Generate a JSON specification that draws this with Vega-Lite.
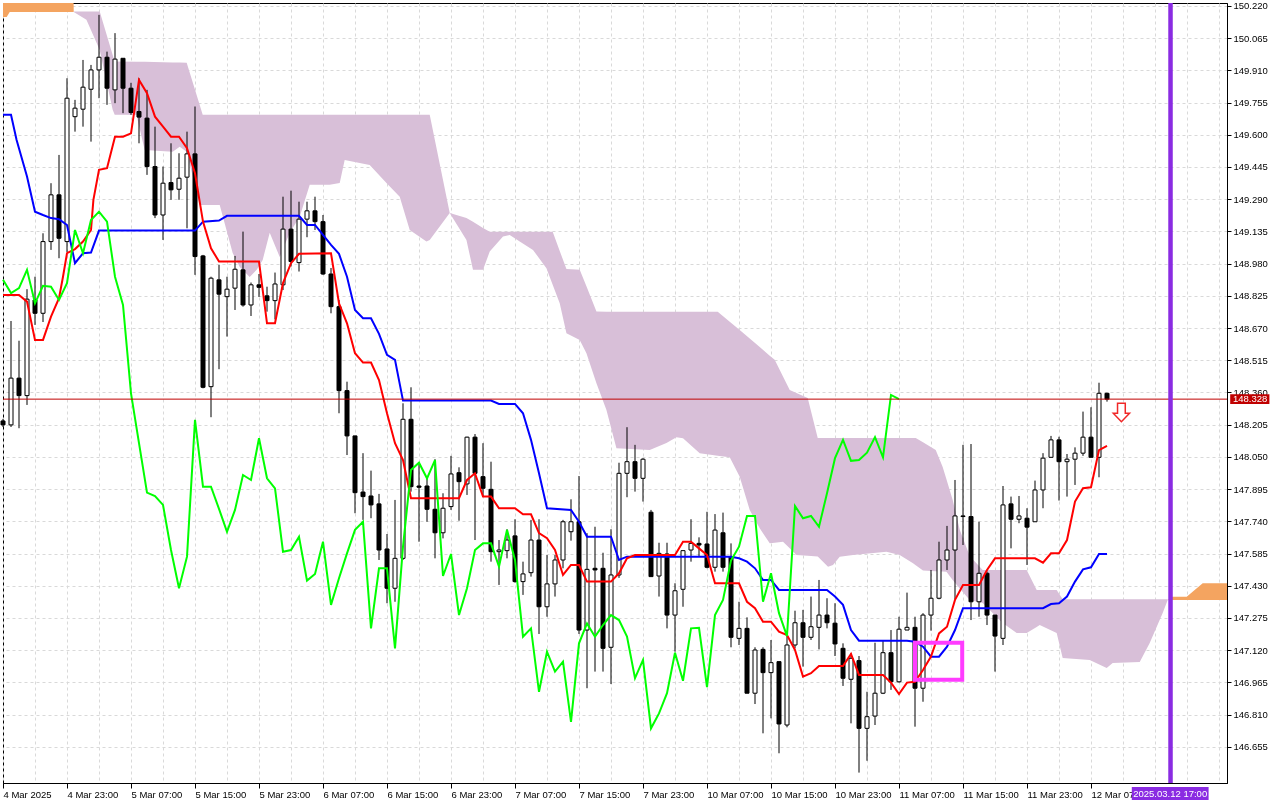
{
  "$schema": "https://vega.github.io/schema/vega-lite/v6.json",
  "width": 1224,
  "height": 780,
  "autosize": {"type": "none"},
  "padding": {"left": 3, "top": 3, "right": 53, "bottom": 17},
  "background": "white",
  "config": {
    "view": {"stroke": "#000000", "strokeWidth": 1},
    "font": "Liberation Sans",
    "axis": {"labelOverlap": false, "labelBound": false, "labelFlush": false, "title": null}
  },
  "datasets": {
    "cloud": [
      {"seg": 1, "kind": "bull", "i": -1, "top": 150.3, "bot": 150.167},
      {"seg": 1, "kind": "bull", "i": 0.46, "top": 150.3, "bot": 150.167},
      {"seg": 1, "kind": "bull", "i": 0.84, "top": 150.3, "bot": 150.191},
      {"seg": 1, "kind": "bull", "i": 8.8, "top": 150.3, "bot": 150.191},
      {"seg": 1, "kind": "bull", "i": 8.84, "top": 150.193, "bot": 150.191},
      {"seg": 2, "kind": "bear", "i": 8.84, "top": 150.193, "bot": 150.191},
      {"seg": 2, "kind": "bear", "i": 10.43, "top": 150.193, "bot": 150.153},
      {"seg": 2, "kind": "bear", "i": 12.09, "top": 150.193, "bot": 150.008},
      {"seg": 2, "kind": "bear", "i": 13.71, "top": 149.984, "bot": 149.72},
      {"seg": 2, "kind": "bear", "i": 13.96, "top": 149.952, "bot": 149.696},
      {"seg": 2, "kind": "bear", "i": 16.68, "top": 149.951, "bot": 149.696},
      {"seg": 2, "kind": "bear", "i": 17.71, "top": 149.951, "bot": 149.527},
      {"seg": 2, "kind": "bear", "i": 21.21, "top": 149.948, "bot": 149.518},
      {"seg": 2, "kind": "bear", "i": 22.09, "top": 149.948, "bot": 149.542},
      {"seg": 2, "kind": "bear", "i": 22.96, "top": 149.947, "bot": 149.518},
      {"seg": 2, "kind": "bear", "i": 24.59, "top": 149.743, "bot": 149.262},
      {"seg": 2, "kind": "bear", "i": 24.96, "top": 149.696, "bot": 149.262},
      {"seg": 2, "kind": "bear", "i": 27.09, "top": 149.696, "bot": 149.262},
      {"seg": 2, "kind": "bear", "i": 28.71, "top": 149.696, "bot": 149.031},
      {"seg": 2, "kind": "bear", "i": 29.59, "top": 149.696, "bot": 148.964},
      {"seg": 2, "kind": "bear", "i": 30.84, "top": 149.696, "bot": 148.916},
      {"seg": 2, "kind": "bear", "i": 31.71, "top": 149.696, "bot": 148.95},
      {"seg": 2, "kind": "bear", "i": 32.46, "top": 149.696, "bot": 148.998},
      {"seg": 2, "kind": "bear", "i": 33.34, "top": 149.696, "bot": 149.128},
      {"seg": 2, "kind": "bear", "i": 34.59, "top": 149.696, "bot": 149.012},
      {"seg": 2, "kind": "bear", "i": 35.84, "top": 149.696, "bot": 149.128},
      {"seg": 2, "kind": "bear", "i": 37.09, "top": 149.696, "bot": 149.205},
      {"seg": 2, "kind": "bear", "i": 38.34, "top": 149.696, "bot": 149.359},
      {"seg": 2, "kind": "bear", "i": 40.84, "top": 149.696, "bot": 149.359},
      {"seg": 2, "kind": "bear", "i": 42.09, "top": 149.696, "bot": 149.368},
      {"seg": 2, "kind": "bear", "i": 42.71, "top": 149.696, "bot": 149.479},
      {"seg": 2, "kind": "bear", "i": 45.84, "top": 149.696, "bot": 149.455},
      {"seg": 2, "kind": "bear", "i": 47.93, "top": 149.696, "bot": 149.368},
      {"seg": 2, "kind": "bear", "i": 49.59, "top": 149.696, "bot": 149.302},
      {"seg": 2, "kind": "bear", "i": 50.84, "top": 149.696, "bot": 149.142},
      {"seg": 2, "kind": "bear", "i": 52.93, "top": 149.696, "bot": 149.086},
      {"seg": 2, "kind": "bear", "i": 53.34, "top": 149.696, "bot": 149.094},
      {"seg": 2, "kind": "bear", "i": 55.84, "top": 149.224, "bot": 149.224},
      {"seg": 2, "kind": "bear", "i": 57.93, "top": 149.2, "bot": 149.094},
      {"seg": 2, "kind": "bear", "i": 58.75, "top": 149.182, "bot": 148.95},
      {"seg": 2, "kind": "bear", "i": 60.0, "top": 149.152, "bot": 148.95},
      {"seg": 2, "kind": "bear", "i": 60.84, "top": 149.133, "bot": 149.038},
      {"seg": 2, "kind": "bear", "i": 62.5, "top": 149.133, "bot": 149.11},
      {"seg": 2, "kind": "bear", "i": 63.34, "top": 149.133, "bot": 149.118},
      {"seg": 2, "kind": "bear", "i": 64.59, "top": 149.133, "bot": 149.086},
      {"seg": 2, "kind": "bear", "i": 66.25, "top": 149.133, "bot": 149.046},
      {"seg": 2, "kind": "bear", "i": 67.93, "top": 149.133, "bot": 148.958},
      {"seg": 2, "kind": "bear", "i": 68.71, "top": 149.133, "bot": 148.878},
      {"seg": 2, "kind": "bear", "i": 69.59, "top": 149.041, "bot": 148.789},
      {"seg": 2, "kind": "bear", "i": 70.43, "top": 148.954, "bot": 148.645},
      {"seg": 2, "kind": "bear", "i": 72.09, "top": 148.95, "bot": 148.613},
      {"seg": 2, "kind": "bear", "i": 72.93, "top": 148.871, "bot": 148.549},
      {"seg": 2, "kind": "bear", "i": 74.18, "top": 148.75, "bot": 148.405},
      {"seg": 2, "kind": "bear", "i": 75.43, "top": 148.748, "bot": 148.276},
      {"seg": 2, "kind": "bear", "i": 76.68, "top": 148.748, "bot": 148.092},
      {"seg": 2, "kind": "bear", "i": 80.84, "top": 148.748, "bot": 148.083},
      {"seg": 2, "kind": "bear", "i": 82.93, "top": 148.748, "bot": 148.117},
      {"seg": 2, "kind": "bear", "i": 84.18, "top": 148.748, "bot": 148.145},
      {"seg": 2, "kind": "bear", "i": 85.0, "top": 148.748, "bot": 148.14},
      {"seg": 2, "kind": "bear", "i": 87.09, "top": 148.748, "bot": 148.068},
      {"seg": 2, "kind": "bear", "i": 89.34, "top": 148.748, "bot": 148.056},
      {"seg": 2, "kind": "bear", "i": 90.84, "top": 148.7, "bot": 148.048},
      {"seg": 2, "kind": "bear", "i": 92.09, "top": 148.661, "bot": 147.955},
      {"seg": 2, "kind": "bear", "i": 93.34, "top": 148.62, "bot": 147.795},
      {"seg": 2, "kind": "bear", "i": 94.59, "top": 148.579, "bot": 147.707},
      {"seg": 2, "kind": "bear", "i": 95.84, "top": 148.537, "bot": 147.634},
      {"seg": 2, "kind": "bear", "i": 96.46, "top": 148.517, "bot": 147.637},
      {"seg": 2, "kind": "bear", "i": 97.5, "top": 148.437, "bot": 147.642},
      {"seg": 2, "kind": "bear", "i": 98.34, "top": 148.372, "bot": 147.61},
      {"seg": 2, "kind": "bear", "i": 99.18, "top": 148.358, "bot": 147.578},
      {"seg": 2, "kind": "bear", "i": 100.59, "top": 148.334, "bot": 147.574},
      {"seg": 2, "kind": "bear", "i": 101.84, "top": 148.141, "bot": 147.571},
      {"seg": 2, "kind": "bear", "i": 103.13, "top": 148.141, "bot": 147.522},
      {"seg": 2, "kind": "bear", "i": 103.75, "top": 148.141, "bot": 147.53},
      {"seg": 2, "kind": "bear", "i": 104.59, "top": 148.141, "bot": 147.57},
      {"seg": 2, "kind": "bear", "i": 106.25, "top": 148.141, "bot": 147.578},
      {"seg": 2, "kind": "bear", "i": 110.43, "top": 148.141, "bot": 147.594},
      {"seg": 2, "kind": "bear", "i": 112.09, "top": 148.141, "bot": 147.578},
      {"seg": 2, "kind": "bear", "i": 113.75, "top": 148.141, "bot": 147.538},
      {"seg": 2, "kind": "bear", "i": 114.09, "top": 148.141, "bot": 147.529},
      {"seg": 2, "kind": "bear", "i": 115.0, "top": 148.12, "bot": 147.503},
      {"seg": 2, "kind": "bear", "i": 116.59, "top": 148.083, "bot": 147.5},
      {"seg": 2, "kind": "bear", "i": 117.46, "top": 148.002, "bot": 147.499},
      {"seg": 2, "kind": "bear", "i": 117.93, "top": 147.943, "bot": 147.498},
      {"seg": 2, "kind": "bear", "i": 118.71, "top": 147.843, "bot": 147.458},
      {"seg": 2, "kind": "bear", "i": 119.59, "top": 147.699, "bot": 147.417},
      {"seg": 2, "kind": "bear", "i": 120.84, "top": 147.573, "bot": 147.362},
      {"seg": 2, "kind": "bear", "i": 122.46, "top": 147.506, "bot": 147.347},
      {"seg": 2, "kind": "bear", "i": 124.96, "top": 147.506, "bot": 147.251},
      {"seg": 2, "kind": "bear", "i": 126.71, "top": 147.506, "bot": 147.203},
      {"seg": 2, "kind": "bear", "i": 127.96, "top": 147.506, "bot": 147.203},
      {"seg": 2, "kind": "bear", "i": 129.21, "top": 147.41, "bot": 147.232},
      {"seg": 2, "kind": "bear", "i": 129.59, "top": 147.41, "bot": 147.241},
      {"seg": 2, "kind": "bear", "i": 131.71, "top": 147.41, "bot": 147.203},
      {"seg": 2, "kind": "bear", "i": 132.46, "top": 147.365, "bot": 147.083},
      {"seg": 2, "kind": "bear", "i": 135.84, "top": 147.365, "bot": 147.073},
      {"seg": 2, "kind": "bear", "i": 137.96, "top": 147.365, "bot": 147.034},
      {"seg": 2, "kind": "bear", "i": 138.71, "top": 147.365, "bot": 147.058},
      {"seg": 2, "kind": "bear", "i": 142.09, "top": 147.365, "bot": 147.063},
      {"seg": 2, "kind": "bear", "i": 143.34, "top": 147.365, "bot": 147.155},
      {"seg": 2, "kind": "bear", "i": 144.96, "top": 147.365, "bot": 147.299},
      {"seg": 2, "kind": "bear", "i": 145.59, "top": 147.365, "bot": 147.362},
      {"seg": 3, "kind": "bull", "i": 145.59, "top": 147.362, "bot": 147.362},
      {"seg": 3, "kind": "bull", "i": 146.17, "top": 147.377, "bot": 147.362},
      {"seg": 3, "kind": "bull", "i": 147.96, "top": 147.377, "bot": 147.362},
      {"seg": 3, "kind": "bull", "i": 149.96, "top": 147.442, "bot": 147.362},
      {"seg": 3, "kind": "bull", "i": 154, "top": 147.442, "bot": 147.362}
    ],
    "bars": [
      {"i": 0, "o": 148.223, "h": 148.233, "l": 148.194, "c": 148.204},
      {"i": 1, "o": 148.204, "h": 148.704, "l": 148.194, "c": 148.429},
      {"i": 2, "o": 148.429, "h": 148.609, "l": 148.188, "c": 148.345},
      {"i": 3, "o": 148.345, "h": 148.857, "l": 148.3, "c": 148.809},
      {"i": 4, "o": 148.805, "h": 148.917, "l": 148.685, "c": 148.741},
      {"i": 5, "o": 148.741, "h": 149.126, "l": 148.699, "c": 149.086},
      {"i": 6, "o": 149.086, "h": 149.367, "l": 149.046, "c": 149.311},
      {"i": 7, "o": 149.311, "h": 149.503, "l": 149.006, "c": 149.102},
      {"i": 8, "o": 149.086, "h": 149.872, "l": 149.036, "c": 149.776},
      {"i": 9, "o": 149.687, "h": 149.768, "l": 149.615, "c": 149.728},
      {"i": 10, "o": 149.723, "h": 149.96, "l": 149.639, "c": 149.829},
      {"i": 11, "o": 149.819, "h": 149.936, "l": 149.567, "c": 149.912},
      {"i": 12, "o": 149.912, "h": 150.177, "l": 149.776, "c": 149.973},
      {"i": 13, "o": 149.973, "h": 150.0, "l": 149.744, "c": 149.824},
      {"i": 14, "o": 149.816, "h": 150.089, "l": 149.752, "c": 149.964},
      {"i": 15, "o": 149.968, "h": 149.968, "l": 149.704, "c": 149.824},
      {"i": 16, "o": 149.824, "h": 149.85, "l": 149.696, "c": 149.707},
      {"i": 17, "o": 149.712, "h": 149.872, "l": 149.559, "c": 149.685},
      {"i": 18, "o": 149.68, "h": 149.816, "l": 149.407, "c": 149.447},
      {"i": 19, "o": 149.447, "h": 149.639, "l": 149.199, "c": 149.214},
      {"i": 20, "o": 149.214, "h": 149.447, "l": 149.094, "c": 149.367},
      {"i": 21, "o": 149.37, "h": 149.559, "l": 149.287, "c": 149.335},
      {"i": 22, "o": 149.338, "h": 149.511, "l": 149.287, "c": 149.391},
      {"i": 23, "o": 149.396, "h": 149.615, "l": 149.15, "c": 149.508},
      {"i": 24, "o": 149.508, "h": 149.736, "l": 148.926, "c": 149.014},
      {"i": 25, "o": 149.017, "h": 149.022, "l": 148.38, "c": 148.385},
      {"i": 26, "o": 148.388, "h": 148.917, "l": 148.241, "c": 148.91},
      {"i": 27, "o": 148.902, "h": 148.974, "l": 148.472, "c": 148.833},
      {"i": 28, "o": 148.821, "h": 148.917, "l": 148.629, "c": 148.857},
      {"i": 29, "o": 148.862, "h": 149.017, "l": 148.757, "c": 148.953},
      {"i": 30, "o": 148.95, "h": 149.134, "l": 148.773, "c": 148.781},
      {"i": 31, "o": 148.781, "h": 148.889, "l": 148.728, "c": 148.878},
      {"i": 32, "o": 148.878, "h": 148.93, "l": 148.82, "c": 148.866},
      {"i": 33, "o": 148.825, "h": 148.869, "l": 148.749, "c": 148.802},
      {"i": 34, "o": 148.802, "h": 148.937, "l": 148.712, "c": 148.882},
      {"i": 35, "o": 148.878, "h": 149.302, "l": 148.853, "c": 149.146},
      {"i": 36, "o": 149.146, "h": 149.331, "l": 148.966, "c": 148.99},
      {"i": 37, "o": 148.985, "h": 149.278, "l": 148.942, "c": 149.194},
      {"i": 38, "o": 149.194, "h": 149.278, "l": 149.107, "c": 149.234},
      {"i": 39, "o": 149.234, "h": 149.302, "l": 149.142, "c": 149.182},
      {"i": 40, "o": 149.182, "h": 149.214, "l": 148.926, "c": 148.93},
      {"i": 41, "o": 148.93, "h": 148.959, "l": 148.741, "c": 148.773},
      {"i": 42, "o": 148.773, "h": 148.805, "l": 148.26, "c": 148.369},
      {"i": 43, "o": 148.369, "h": 148.412, "l": 148.059, "c": 148.151},
      {"i": 44, "o": 148.151, "h": 148.151, "l": 147.779, "c": 147.878},
      {"i": 45, "o": 147.881, "h": 148.068, "l": 147.747, "c": 147.859},
      {"i": 46, "o": 147.862, "h": 147.984, "l": 147.755, "c": 147.819},
      {"i": 47, "o": 147.824, "h": 147.872, "l": 147.554, "c": 147.602},
      {"i": 48, "o": 147.607, "h": 147.679, "l": 147.346, "c": 147.418},
      {"i": 49, "o": 147.418, "h": 147.843, "l": 147.353, "c": 147.562},
      {"i": 50, "o": 147.562, "h": 148.308, "l": 147.554, "c": 148.231},
      {"i": 51, "o": 148.231, "h": 148.385, "l": 147.883, "c": 147.907},
      {"i": 52, "o": 147.91, "h": 148.019, "l": 147.642, "c": 147.904},
      {"i": 53, "o": 147.91, "h": 147.947, "l": 147.738, "c": 147.798},
      {"i": 54, "o": 147.798, "h": 148.039, "l": 147.562, "c": 147.685},
      {"i": 55, "o": 147.685, "h": 147.875, "l": 147.658, "c": 147.803},
      {"i": 56, "o": 147.811, "h": 148.055, "l": 147.795, "c": 147.968},
      {"i": 57, "o": 147.974, "h": 148.0, "l": 147.743, "c": 147.931},
      {"i": 58, "o": 147.92, "h": 148.147, "l": 147.867, "c": 148.145},
      {"i": 59, "o": 148.145, "h": 148.16, "l": 147.65, "c": 147.971},
      {"i": 60, "o": 147.955, "h": 148.116, "l": 147.859, "c": 147.899},
      {"i": 61, "o": 147.894, "h": 148.027, "l": 147.546, "c": 147.594},
      {"i": 62, "o": 147.594, "h": 147.65, "l": 147.434, "c": 147.602},
      {"i": 63, "o": 147.599, "h": 147.702, "l": 147.562, "c": 147.65},
      {"i": 64, "o": 147.67, "h": 147.75, "l": 147.445, "c": 147.45},
      {"i": 65, "o": 147.45, "h": 147.546, "l": 147.386, "c": 147.487},
      {"i": 66, "o": 147.493, "h": 147.747, "l": 147.474, "c": 147.65},
      {"i": 67, "o": 147.65, "h": 147.75, "l": 147.198, "c": 147.329},
      {"i": 68, "o": 147.329, "h": 147.578, "l": 147.281, "c": 147.439},
      {"i": 69, "o": 147.439, "h": 147.578, "l": 147.378, "c": 147.554},
      {"i": 70, "o": 147.554, "h": 147.747, "l": 147.514, "c": 147.738},
      {"i": 71, "o": 147.69, "h": 147.846, "l": 147.647, "c": 147.738},
      {"i": 72, "o": 147.738, "h": 147.958, "l": 147.198, "c": 147.217},
      {"i": 73, "o": 147.217, "h": 147.683, "l": 146.937, "c": 147.509},
      {"i": 74, "o": 147.514, "h": 147.714, "l": 147.017, "c": 147.506},
      {"i": 75, "o": 147.514, "h": 147.589, "l": 147.017, "c": 147.129},
      {"i": 76, "o": 147.134, "h": 147.702, "l": 146.957, "c": 147.482},
      {"i": 77, "o": 147.482, "h": 148.022, "l": 147.468, "c": 147.971},
      {"i": 78, "o": 147.971, "h": 148.193, "l": 147.856, "c": 148.027},
      {"i": 79, "o": 148.027, "h": 148.108, "l": 147.883, "c": 147.947},
      {"i": 80, "o": 147.947, "h": 148.044, "l": 147.835, "c": 148.039},
      {"i": 81, "o": 147.784, "h": 147.795, "l": 147.474, "c": 147.474},
      {"i": 82, "o": 147.477, "h": 147.637, "l": 147.378, "c": 147.586},
      {"i": 83, "o": 147.583, "h": 147.637, "l": 147.225, "c": 147.289},
      {"i": 84, "o": 147.289, "h": 147.442, "l": 147.113, "c": 147.406},
      {"i": 85, "o": 147.413, "h": 147.602, "l": 147.329, "c": 147.599},
      {"i": 86, "o": 147.602, "h": 147.75, "l": 147.546, "c": 147.634},
      {"i": 87, "o": 147.634, "h": 147.663, "l": 147.57, "c": 147.626},
      {"i": 88, "o": 147.631, "h": 147.786, "l": 147.514, "c": 147.519},
      {"i": 89, "o": 147.519, "h": 147.775, "l": 147.498, "c": 147.698},
      {"i": 90, "o": 147.685, "h": 147.782, "l": 147.498, "c": 147.519},
      {"i": 91, "o": 147.57, "h": 147.634, "l": 147.134, "c": 147.182},
      {"i": 92, "o": 147.177, "h": 147.353, "l": 147.145, "c": 147.225},
      {"i": 93, "o": 147.225, "h": 147.278, "l": 146.913, "c": 146.913},
      {"i": 94, "o": 146.913, "h": 147.134, "l": 146.861, "c": 147.121},
      {"i": 95, "o": 147.124, "h": 147.134, "l": 146.72, "c": 147.012},
      {"i": 96, "o": 147.012, "h": 147.169, "l": 146.792, "c": 147.06},
      {"i": 97, "o": 147.065, "h": 147.065, "l": 146.624, "c": 146.765},
      {"i": 98, "o": 146.76, "h": 147.201, "l": 146.749, "c": 147.145},
      {"i": 99, "o": 147.145, "h": 147.31, "l": 147.129, "c": 147.252},
      {"i": 100, "o": 147.252, "h": 147.314, "l": 147.041, "c": 147.182},
      {"i": 101, "o": 147.182, "h": 147.378, "l": 147.169, "c": 147.233},
      {"i": 102, "o": 147.23, "h": 147.458, "l": 147.124, "c": 147.289},
      {"i": 103, "o": 147.289, "h": 147.37, "l": 147.225, "c": 147.252},
      {"i": 104, "o": 147.25, "h": 147.346, "l": 147.092, "c": 147.15},
      {"i": 105, "o": 147.129, "h": 147.153, "l": 146.948, "c": 146.985},
      {"i": 106, "o": 146.98, "h": 147.105, "l": 146.768, "c": 147.081},
      {"i": 107, "o": 147.07, "h": 147.092, "l": 146.531, "c": 146.744},
      {"i": 108, "o": 146.744, "h": 146.92, "l": 146.588, "c": 146.8},
      {"i": 109, "o": 146.803, "h": 147.156, "l": 146.76, "c": 146.913},
      {"i": 110, "o": 146.913, "h": 147.169, "l": 146.909, "c": 147.108},
      {"i": 111, "o": 147.108, "h": 147.217, "l": 146.929, "c": 146.968},
      {"i": 112, "o": 146.968, "h": 147.281, "l": 146.964, "c": 147.221},
      {"i": 113, "o": 147.217, "h": 147.397, "l": 147.217, "c": 147.23},
      {"i": 114, "o": 147.23, "h": 147.281, "l": 146.752, "c": 146.937},
      {"i": 115, "o": 146.937, "h": 147.298, "l": 146.872, "c": 147.289},
      {"i": 116, "o": 147.289, "h": 147.506, "l": 147.214, "c": 147.37},
      {"i": 117, "o": 147.37, "h": 147.642, "l": 147.365, "c": 147.554},
      {"i": 118, "o": 147.554, "h": 147.718, "l": 147.506, "c": 147.602},
      {"i": 119, "o": 147.602, "h": 147.939, "l": 147.365, "c": 147.766},
      {"i": 120, "o": 147.766, "h": 148.108, "l": 147.626, "c": 147.763},
      {"i": 121, "o": 147.763, "h": 148.112, "l": 147.265, "c": 147.353},
      {"i": 122, "o": 147.353, "h": 147.738, "l": 147.281, "c": 147.49},
      {"i": 123, "o": 147.49, "h": 147.498, "l": 147.241, "c": 147.289},
      {"i": 124, "o": 147.289, "h": 147.289, "l": 147.017, "c": 147.188},
      {"i": 125, "o": 147.177, "h": 147.91, "l": 147.145, "c": 147.819},
      {"i": 126, "o": 147.824, "h": 147.859, "l": 147.61, "c": 147.75},
      {"i": 127, "o": 147.75, "h": 147.862, "l": 147.731, "c": 147.766},
      {"i": 128, "o": 147.755, "h": 147.803, "l": 147.53, "c": 147.712},
      {"i": 129, "o": 147.738, "h": 147.936, "l": 147.738, "c": 147.891},
      {"i": 130, "o": 147.891, "h": 148.068, "l": 147.803, "c": 148.044},
      {"i": 131, "o": 148.048, "h": 148.151, "l": 148.048, "c": 148.132},
      {"i": 132, "o": 148.132, "h": 148.147, "l": 147.84, "c": 148.027},
      {"i": 133, "o": 148.027, "h": 148.064, "l": 147.859, "c": 148.039},
      {"i": 134, "o": 148.039, "h": 148.096, "l": 147.915, "c": 148.068},
      {"i": 135, "o": 148.068, "h": 148.268, "l": 148.055, "c": 148.145},
      {"i": 136, "o": 148.145, "h": 148.289, "l": 148.048, "c": 148.048},
      {"i": 137, "o": 148.048, "h": 148.407, "l": 147.952, "c": 148.356},
      {"i": 138, "o": 148.356, "h": 148.359, "l": 148.316, "c": 148.328}
    ],
    "tenkan": [
      {"i": 0, "v": 148.829}, {"i": 2, "v": 148.829}, {"i": 3, "v": 148.797}, {"i": 4, "v": 148.613},
      {"i": 5, "v": 148.613}, {"i": 6, "v": 148.725}, {"i": 7, "v": 148.814}, {"i": 7.5, "v": 148.917},
      {"i": 8, "v": 149.03}, {"i": 9, "v": 149.05}, {"i": 10, "v": 149.086}, {"i": 11, "v": 149.142},
      {"i": 11.3, "v": 149.287}, {"i": 12, "v": 149.431}, {"i": 13, "v": 149.439}, {"i": 14, "v": 149.591},
      {"i": 15, "v": 149.591}, {"i": 16, "v": 149.607}, {"i": 17, "v": 149.864}, {"i": 18, "v": 149.8},
      {"i": 19, "v": 149.687}, {"i": 20, "v": 149.639}, {"i": 21, "v": 149.591}, {"i": 22, "v": 149.591},
      {"i": 23, "v": 149.535}, {"i": 24, "v": 149.415}, {"i": 25, "v": 149.182}, {"i": 26, "v": 149.054},
      {"i": 27, "v": 148.99}, {"i": 32, "v": 148.99}, {"i": 33, "v": 148.693}, {"i": 34, "v": 148.693},
      {"i": 35, "v": 148.886}, {"i": 36, "v": 148.982}, {"i": 37, "v": 149.027}, {"i": 41, "v": 149.03},
      {"i": 42, "v": 148.789}, {"i": 43, "v": 148.693}, {"i": 44, "v": 148.549}, {"i": 45, "v": 148.504},
      {"i": 46, "v": 148.504}, {"i": 47, "v": 148.42}, {"i": 48, "v": 148.26}, {"i": 49, "v": 148.116},
      {"i": 50, "v": 148.035}, {"i": 51, "v": 147.851}, {"i": 57, "v": 147.851}, {"i": 58, "v": 147.939},
      {"i": 59, "v": 147.971}, {"i": 60, "v": 147.859}, {"i": 61, "v": 147.859}, {"i": 62, "v": 147.803},
      {"i": 64, "v": 147.803}, {"i": 65, "v": 147.774}, {"i": 66, "v": 147.774}, {"i": 67, "v": 147.683},
      {"i": 68, "v": 147.659}, {"i": 69, "v": 147.602}, {"i": 70, "v": 147.482}, {"i": 71, "v": 147.53},
      {"i": 72, "v": 147.53}, {"i": 73, "v": 147.45}, {"i": 76, "v": 147.45}, {"i": 77, "v": 147.49},
      {"i": 78, "v": 147.562}, {"i": 79, "v": 147.578}, {"i": 84, "v": 147.578}, {"i": 85, "v": 147.642},
      {"i": 86, "v": 147.642}, {"i": 87, "v": 147.61}, {"i": 88, "v": 147.578}, {"i": 89, "v": 147.442},
      {"i": 92, "v": 147.442}, {"i": 93, "v": 147.353}, {"i": 94, "v": 147.322}, {"i": 95, "v": 147.257},
      {"i": 96, "v": 147.257}, {"i": 97, "v": 147.209}, {"i": 98, "v": 147.193}, {"i": 99, "v": 147.121},
      {"i": 100, "v": 146.993}, {"i": 101, "v": 147.009}, {"i": 102, "v": 147.044}, {"i": 105, "v": 147.044},
      {"i": 106, "v": 147.102}, {"i": 107, "v": 147.001}, {"i": 110, "v": 147.001}, {"i": 111, "v": 146.964},
      {"i": 112, "v": 146.909}, {"i": 113, "v": 146.964}, {"i": 114, "v": 146.968}, {"i": 115, "v": 147.025},
      {"i": 116, "v": 147.089}, {"i": 117, "v": 147.201}, {"i": 118, "v": 147.233}, {"i": 119, "v": 147.362},
      {"i": 120, "v": 147.434}, {"i": 122, "v": 147.434}, {"i": 123, "v": 147.506}, {"i": 124, "v": 147.562},
      {"i": 129, "v": 147.562}, {"i": 130, "v": 147.541}, {"i": 131, "v": 147.586}, {"i": 132, "v": 147.586},
      {"i": 133, "v": 147.65}, {"i": 134, "v": 147.835}, {"i": 135, "v": 147.899}, {"i": 136, "v": 147.904},
      {"i": 137, "v": 148.083}, {"i": 138, "v": 148.103}
    ],
    "kijun": [
      {"i": 0, "v": 149.696}, {"i": 1, "v": 149.696}, {"i": 1.7, "v": 149.575}, {"i": 3, "v": 149.399},
      {"i": 4, "v": 149.23}, {"i": 5, "v": 149.214}, {"i": 6, "v": 149.199}, {"i": 7, "v": 149.194},
      {"i": 8, "v": 149.166}, {"i": 9, "v": 148.982}, {"i": 10, "v": 149.03}, {"i": 11, "v": 149.033},
      {"i": 12, "v": 149.139}, {"i": 24, "v": 149.139}, {"i": 25, "v": 149.182}, {"i": 27, "v": 149.187},
      {"i": 28, "v": 149.21}, {"i": 37, "v": 149.21}, {"i": 38, "v": 149.166}, {"i": 39, "v": 149.166},
      {"i": 40, "v": 149.118}, {"i": 41, "v": 149.07}, {"i": 42, "v": 149.027}, {"i": 43, "v": 148.917},
      {"i": 44, "v": 148.757}, {"i": 45, "v": 148.717}, {"i": 46, "v": 148.717}, {"i": 47, "v": 148.642},
      {"i": 48, "v": 148.541}, {"i": 49, "v": 148.517}, {"i": 50, "v": 148.321}, {"i": 61, "v": 148.321},
      {"i": 62, "v": 148.305}, {"i": 64, "v": 148.305}, {"i": 65, "v": 148.26}, {"i": 66, "v": 148.132},
      {"i": 67, "v": 147.971}, {"i": 68, "v": 147.803}, {"i": 71, "v": 147.795}, {"i": 72, "v": 147.738},
      {"i": 73, "v": 147.666}, {"i": 76, "v": 147.666}, {"i": 77, "v": 147.554}, {"i": 78, "v": 147.57},
      {"i": 91, "v": 147.57}, {"i": 92, "v": 147.562}, {"i": 93, "v": 147.546}, {"i": 94, "v": 147.514},
      {"i": 95, "v": 147.458}, {"i": 96, "v": 147.458}, {"i": 97, "v": 147.41}, {"i": 103, "v": 147.41},
      {"i": 104, "v": 147.378}, {"i": 105, "v": 147.338}, {"i": 106, "v": 147.217}, {"i": 107, "v": 147.166},
      {"i": 113, "v": 147.166}, {"i": 114, "v": 147.161}, {"i": 115, "v": 147.137}, {"i": 116, "v": 147.089},
      {"i": 117, "v": 147.089}, {"i": 118, "v": 147.137}, {"i": 119, "v": 147.217}, {"i": 120, "v": 147.322},
      {"i": 130, "v": 147.322}, {"i": 131, "v": 147.342}, {"i": 132, "v": 147.346}, {"i": 133, "v": 147.378},
      {"i": 134, "v": 147.45}, {"i": 135, "v": 147.509}, {"i": 136, "v": 147.519}, {"i": 137, "v": 147.583},
      {"i": 138, "v": 147.583}
    ],
    "chikou": [
      {"i": 0, "v": 148.902}, {"i": 1, "v": 148.838}, {"i": 2, "v": 148.862}, {"i": 3, "v": 148.95},
      {"i": 4, "v": 148.789}, {"i": 5, "v": 148.873}, {"i": 6, "v": 148.869}, {"i": 7, "v": 148.805},
      {"i": 8, "v": 148.886}, {"i": 9, "v": 149.142}, {"i": 10, "v": 149.03}, {"i": 11, "v": 149.19},
      {"i": 12, "v": 149.23}, {"i": 13, "v": 149.182}, {"i": 14, "v": 148.917}, {"i": 15, "v": 148.781},
      {"i": 16, "v": 148.356}, {"i": 17, "v": 148.116}, {"i": 18, "v": 147.878}, {"i": 19, "v": 147.862},
      {"i": 20, "v": 147.819}, {"i": 21, "v": 147.602}, {"i": 22, "v": 147.418}, {"i": 23, "v": 147.57},
      {"i": 24, "v": 148.228}, {"i": 25, "v": 147.907}, {"i": 26, "v": 147.907}, {"i": 27, "v": 147.8},
      {"i": 28, "v": 147.69}, {"i": 29, "v": 147.795}, {"i": 30, "v": 147.963}, {"i": 31, "v": 147.939},
      {"i": 32, "v": 148.14}, {"i": 33, "v": 147.947}, {"i": 34, "v": 147.899}, {"i": 35, "v": 147.594},
      {"i": 36, "v": 147.602}, {"i": 37, "v": 147.666}, {"i": 38, "v": 147.455}, {"i": 39, "v": 147.487},
      {"i": 40, "v": 147.642}, {"i": 41, "v": 147.338}, {"i": 42, "v": 147.466}, {"i": 43, "v": 147.586},
      {"i": 44, "v": 147.699}, {"i": 45, "v": 147.738}, {"i": 46, "v": 147.225}, {"i": 47, "v": 147.514},
      {"i": 48, "v": 147.514}, {"i": 49, "v": 147.129}, {"i": 50, "v": 147.618}, {"i": 51, "v": 147.987},
      {"i": 52, "v": 148.022}, {"i": 53, "v": 147.947}, {"i": 54, "v": 148.035}, {"i": 55, "v": 147.477},
      {"i": 56, "v": 147.583}, {"i": 57, "v": 147.289}, {"i": 58, "v": 147.418}, {"i": 59, "v": 147.602},
      {"i": 60, "v": 147.634}, {"i": 61, "v": 147.634}, {"i": 62, "v": 147.522}, {"i": 63, "v": 147.699},
      {"i": 64, "v": 147.554}, {"i": 65, "v": 147.185}, {"i": 66, "v": 147.225}, {"i": 67, "v": 146.92},
      {"i": 68, "v": 147.113}, {"i": 69, "v": 147.017}, {"i": 70, "v": 147.065}, {"i": 71, "v": 146.775},
      {"i": 72, "v": 147.153}, {"i": 73, "v": 147.249}, {"i": 74, "v": 147.185}, {"i": 75, "v": 147.241},
      {"i": 76, "v": 147.289}, {"i": 77, "v": 147.265}, {"i": 78, "v": 147.185}, {"i": 79, "v": 146.985},
      {"i": 80, "v": 147.073}, {"i": 81, "v": 146.744}, {"i": 82, "v": 146.816}, {"i": 83, "v": 146.913},
      {"i": 84, "v": 147.108}, {"i": 85, "v": 146.973}, {"i": 86, "v": 147.225}, {"i": 87, "v": 147.228},
      {"i": 88, "v": 146.942}, {"i": 89, "v": 147.289}, {"i": 90, "v": 147.362}, {"i": 91, "v": 147.551},
      {"i": 92, "v": 147.618}, {"i": 93, "v": 147.766}, {"i": 94, "v": 147.766}, {"i": 95, "v": 147.353},
      {"i": 96, "v": 147.49}, {"i": 97, "v": 147.298}, {"i": 98, "v": 147.188}, {"i": 99, "v": 147.814},
      {"i": 100, "v": 147.755}, {"i": 101, "v": 147.766}, {"i": 102, "v": 147.714}, {"i": 103, "v": 147.875},
      {"i": 104, "v": 148.044}, {"i": 105, "v": 148.132}, {"i": 106, "v": 148.031}, {"i": 107, "v": 148.035},
      {"i": 108, "v": 148.07}, {"i": 109, "v": 148.145}, {"i": 110, "v": 148.048}, {"i": 111, "v": 148.348},
      {"i": 112, "v": 148.328}
    ]
  },
  "layer": [
    {
      "data": {"name": "cloud"},
      "mark": {"type": "area", "clip": true, "blend": "multiply", "interpolate": "linear", "opacity": 1},
      "encoding": {
        "x": {
          "field": "i", "type": "quantitative",
          "scale": {"domain": [0, 153], "nice": false, "zero": false, "padding": 0},
          "axis": {
            "orient": "bottom", "title": null, "tickCount": 200,
            "values": [0,4,8,12,16,20,24,28,32,36,40,44,48,52,56,60,64,68,72,76,80,84,88,92,96,100,104,108,112,116,120,124,128,132,136,140,144,148,152],
            "labelExpr": "datum.value % 8 == 0 ? ['4 Mar 2025','4 Mar 23:00','5 Mar 07:00','5 Mar 15:00','5 Mar 23:00','6 Mar 07:00','6 Mar 15:00','6 Mar 23:00','7 Mar 07:00','7 Mar 15:00','7 Mar 23:00','10 Mar 07:00','10 Mar 15:00','10 Mar 23:00','11 Mar 07:00','11 Mar 15:00','11 Mar 23:00','12 Mar 07:00','',''][datum.value / 8] : ''",
            "labelAlign": "left", "labelBaseline": "top", "labelPadding": 1,
            "labelFont": "Liberation Sans", "labelFontSize": 9.5, "labelColor": "#000000",
            "labelFlush": false, "labelOverlap": false, "labelBound": false,
            "tickColor": "#000000", "tickSize": 5,
            "tickOpacity": {"condition": {"test": "datum.value % 8 == 0 && datum.value <= 136", "value": 1}, "value": 0},
            "domainColor": "#000000",
            "grid": true, "gridColor": "#d9d9d9", "gridDash": [3, 3], "gridWidth": 1
          }
        },
        "y": {
          "field": "top", "type": "quantitative",
          "scale": {"domain": [146.481, 150.234], "nice": false, "zero": false},
          "axis": {
            "orient": "right", "title": null, "tickCount": 200,
            "values": [150.22,150.065,149.91,149.755,149.6,149.445,149.29,149.135,148.98,148.825,148.67,148.515,148.36,148.205,148.05,147.895,147.74,147.585,147.43,147.275,147.12,146.965,146.81,146.655],
            "format": ".3f",
            "labelFont": "Liberation Sans", "labelFontSize": 9.5, "labelColor": "#000000",
            "labelPadding": 2, "labelFlush": false, "labelOverlap": false, "labelBound": false,
            "tickColor": "#000000", "tickSize": 4, "domainColor": "#000000",
            "grid": true, "gridColor": "#d9d9d9", "gridDash": [3, 3], "gridWidth": 1
          }
        },
        "y2": {"field": "bot"},
        "color": {"field": "kind", "type": "nominal", "scale": {"domain": ["bear", "bull"], "range": ["#d8bfd8", "#f4a460"]}, "legend": null},
        "detail": {"field": "seg", "type": "nominal"}
      }
    },
    {
      "data": {"name": "bars"},
      "mark": {"type": "rule", "color": "#000000", "strokeWidth": 1},
      "encoding": {
        "x": {"field": "i", "type": "quantitative"},
        "y": {"field": "l", "type": "quantitative"},
        "y2": {"field": "h"}
      }
    },
    {
      "data": {"name": "bars"},
      "mark": {"type": "bar", "size": 4, "stroke": "#000000", "strokeWidth": 1},
      "encoding": {
        "x": {"field": "i", "type": "quantitative"},
        "y": {"field": "o", "type": "quantitative"},
        "y2": {"field": "c"},
        "fill": {"condition": {"test": "datum.c >= datum.o", "value": "#ffffff"}, "value": "#000000"}
      }
    },
    {
      "data": {"name": "kijun"},
      "mark": {"type": "line", "color": "#0000ff", "strokeWidth": 2},
      "encoding": {
        "x": {"field": "i", "type": "quantitative"},
        "y": {"field": "v", "type": "quantitative"}
      }
    },
    {
      "data": {"name": "tenkan"},
      "mark": {"type": "line", "color": "#ff0000", "strokeWidth": 2},
      "encoding": {
        "x": {"field": "i", "type": "quantitative"},
        "y": {"field": "v", "type": "quantitative"}
      }
    },
    {
      "data": {"name": "chikou"},
      "mark": {"type": "line", "color": "#00ff00", "strokeWidth": 2},
      "encoding": {
        "x": {"field": "i", "type": "quantitative"},
        "y": {"field": "v", "type": "quantitative"}
      }
    },
    {
      "data": {"values": [{}]},
      "mark": {"type": "rule", "color": "#c00000", "strokeWidth": 1},
      "encoding": {"y": {"datum": 148.328, "type": "quantitative"}}
    },
    {
      "data": {"values": [{}]},
      "mark": {"type": "rule", "color": "#8a2be2", "strokeWidth": 4.5},
      "encoding": {"x": {"datum": 145.94, "type": "quantitative"}}
    },
    {
      "data": {"values": [{}]},
      "mark": {"type": "rect", "fill": "transparent", "stroke": "#ff3cff", "strokeWidth": 4},
      "encoding": {
        "x": {"datum": 114.0, "type": "quantitative"},
        "x2": {"datum": 119.9},
        "y": {"datum": 147.156, "type": "quantitative"},
        "y2": {"datum": 146.978}
      }
    },
    {
      "data": {"values": [{}]},
      "mark": {"type": "point", "shape": "M-0.42,-1L0.42,-1L0.42,0.1L0.88,0.1L0,1L-0.88,0.1L-0.42,0.1Z", "filled": true, "fill": "#ffffff", "stroke": "#f02828", "strokeWidth": 1.5, "size": 340, "opacity": 1},
      "encoding": {
        "x": {"datum": 139.8, "type": "quantitative"},
        "y": {"datum": 148.264, "type": "quantitative"}
      }
    },
    {
      "data": {"values": [{}]},
      "mark": {"type": "rect", "fill": "#c00000"},
      "encoding": {
        "x": {"datum": 153.4, "type": "quantitative"},
        "x2": {"datum": 158.3},
        "y": {"datum": 148.352, "type": "quantitative"},
        "y2": {"datum": 148.305}
      }
    },
    {
      "data": {"values": [{}]},
      "mark": {"type": "text", "text": "148.328", "align": "left", "baseline": "middle", "color": "#ffffff", "font": "Liberation Sans", "fontSize": 9.5},
      "encoding": {
        "x": {"datum": 153.75, "type": "quantitative"},
        "y": {"datum": 148.328, "type": "quantitative"}
      }
    },
    {
      "data": {"values": [{}]},
      "mark": {"type": "rect", "fill": "#8a2be2"},
      "encoding": {
        "x": {"datum": 141.1, "type": "quantitative"},
        "x2": {"datum": 150.7},
        "y": {"datum": 146.4616, "type": "quantitative"},
        "y2": {"datum": 146.399}
      }
    },
    {
      "data": {"values": [{}]},
      "mark": {"type": "text", "text": "2025.03.12 17:00", "align": "center", "baseline": "middle", "color": "#ffffff", "font": "Liberation Sans", "fontSize": 9.5},
      "encoding": {
        "x": {"datum": 145.9, "type": "quantitative"},
        "y": {"datum": 146.43, "type": "quantitative"}
      }
    }
  ]
}
